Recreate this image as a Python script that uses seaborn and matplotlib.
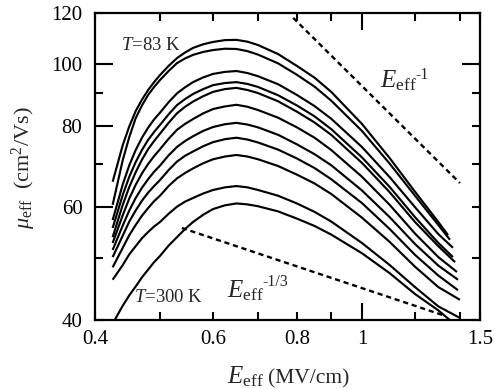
import matplotlib
matplotlib.use("Agg")
import matplotlib.pyplot as plt
from matplotlib.ticker import FixedLocator, FixedFormatter, NullLocator
import pandas as pd
import seaborn as sns

# Effective field grid (MV/cm) shared by the interior of every curve
E_grid = [0.44, 0.45, 0.46, 0.47, 0.48, 0.49, 0.50, 0.515, 0.53, 0.545, 0.56,
          0.58, 0.60, 0.625, 0.65, 0.675, 0.70, 0.75, 0.80, 0.85, 0.90,
          1.00, 1.10, 1.20, 1.30]

# First and last measured point of each curve (T = 83 K ... 300 K)
E_start = [0.425, 0.425, 0.425, 0.425, 0.425, 0.425, 0.425, 0.425, 0.425, 0.425, 0.428]
mu_start = [65.6, 60.4, 57.2, 55.6, 53.8, 52.7, 51.4, 50.1, 48.3, 46.2, 40.0]
E_end = [1.344, 1.353, 1.367, 1.367, 1.377, 1.386, 1.391, 1.391, 1.40, 1.40, 1.40]
mu_end = [54.2, 53.3, 51.8, 50.1, 49.2, 47.5, 46.2, 44.5, 43.0, 40.3, 38.8]

# Effective mobility (cm^2/Vs) on E_grid, from 83 K (top) to 300 K (bottom)
mu_c1 = [74.8, 80.0, 84.5, 88.0, 91.1, 93.7, 96.1, 99.3, 102.1, 104.2, 105.9, 107.3, 108.2,
         108.9, 109.0, 108.3, 107.0, 103.6, 99.3, 95.2, 90.5, 80.7, 71.4, 63.3, 56.8]
mu_c2 = [70.9, 77.0, 82.4, 86.2, 89.5, 92.1, 94.4, 97.5, 100.3, 102.0, 103.3, 104.4, 105.1,
         105.6, 105.5, 104.7, 103.4, 100.2, 96.2, 92.2, 87.7, 78.7, 70.0, 62.4, 56.2]
mu_c3 = [65.0, 69.6, 73.5, 76.8, 79.6, 82.0, 84.0, 87.2, 90.0, 92.0, 93.7, 95.3, 96.5,
         97.2, 97.5, 96.8, 95.7, 93.0, 89.5, 86.0, 82.2, 74.3, 66.7, 59.9, 54.4]
mu_c4 = [62.6, 66.8, 70.4, 73.5, 76.2, 78.4, 80.4, 83.5, 86.3, 88.2, 89.8, 91.4, 92.7,
         93.4, 93.7, 93.1, 92.1, 89.4, 86.2, 82.9, 79.2, 71.6, 64.4, 57.8, 52.7]
mu_c5 = [60.4, 64.4, 67.9, 71.0, 73.7, 75.9, 77.9, 81.0, 83.8, 85.8, 87.4, 89.1, 90.5,
         91.4, 91.8, 91.1, 90.1, 87.5, 84.3, 81.1, 77.6, 70.2, 63.2, 56.8, 52.1]
mu_c6 = [58.2, 61.8, 64.9, 67.6, 69.9, 71.9, 73.7, 76.5, 79.0, 80.7, 82.1, 83.8, 85.1,
         85.9, 86.4, 85.8, 84.8, 82.5, 79.7, 76.8, 73.5, 66.8, 60.4, 54.5, 50.1]
mu_c7 = [56.1, 59.2, 61.9, 64.2, 66.2, 68.0, 69.5, 72.1, 74.3, 75.9, 77.2, 78.7, 79.8,
         80.6, 81.0, 80.5, 79.7, 77.6, 75.0, 72.4, 69.6, 63.6, 57.8, 52.5, 48.6]
mu_c8 = [54.1, 56.9, 59.2, 61.3, 63.1, 64.6, 66.0, 68.4, 70.5, 72.0, 73.1, 74.5, 75.6,
         76.4, 76.8, 76.3, 75.5, 73.6, 71.3, 68.9, 66.2, 60.8, 55.4, 50.5, 46.9]
mu_c9 = [51.8, 54.2, 56.2, 58.1, 59.7, 61.2, 62.4, 64.6, 66.4, 67.7, 68.8, 70.1, 71.1,
         71.8, 72.2, 71.8, 71.1, 69.4, 67.3, 65.2, 62.8, 57.7, 52.9, 48.4, 45.0]
mu_c10 = [48.7, 50.6, 52.1, 53.6, 54.8, 55.9, 56.8, 58.5, 60.0, 61.1, 61.9, 62.9, 63.7,
          64.3, 64.6, 64.3, 63.7, 62.4, 60.7, 58.9, 56.9, 52.7, 48.7, 45.0, 42.0]
mu_c11 = [42.1, 43.7, 45.1, 46.6, 47.9, 49.2, 50.3, 52.2, 53.8, 55.4, 56.8, 58.3, 59.5,
          60.3, 60.7, 60.5, 60.1, 59.0, 57.5, 56.0, 54.3, 50.8, 47.3, 43.9, 41.4]

# Power-law guide lines (end points)
guide_inv_E = [0.79, 1.40]
guide_inv_mu = [117.9, 65.3]
guide_third_E = [0.539, 1.321]
guide_third_mu = [55.6, 40.7]

x_ticks = [0.4, 0.5, 0.6, 0.7, 0.8, 0.9, 1.0, 1.2, 1.4, 1.5]
x_labels = ["0.4", "", "0.6", "", "0.8", "", "1", "", "", "1.5"]
y_ticks = [40, 50, 60, 70, 80, 90, 100, 120]
y_labels = ["40", "", "60", "", "80", "", "100", "120"]

curves = [mu_c1, mu_c2, mu_c3, mu_c4, mu_c5, mu_c6, mu_c7, mu_c8, mu_c9, mu_c10, mu_c11]
rows = []
for i, mids in enumerate(curves):
    xs = [E_start[i]] + E_grid + [E_end[i]]
    ys = [mu_start[i]] + mids + [mu_end[i]]
    rows += [(i, x, y) for x, y in zip(xs, ys)]
df = pd.DataFrame(rows, columns=["curve", "E", "mu"])

sns.set_style("ticks")
plt.rcParams["font.family"] = ["Liberation Serif", "DejaVu Serif"]
plt.rcParams["mathtext.fontset"] = "custom"
plt.rcParams["mathtext.rm"] = "Liberation Serif"
plt.rcParams["mathtext.it"] = "Liberation Serif:italic"
plt.rcParams["mathtext.bf"] = "Liberation Serif:bold"

W, H = 496, 389
fig = plt.figure(figsize=(W / 100, H / 100), dpi=100)
ax = fig.add_axes([95 / W, 1 - 320 / H, 385 / W, 307 / H])

sns.lineplot(data=df, x="E", y="mu", units="curve", estimator=None,
             color="black", lw=1.55, ax=ax, legend=False,
             solid_joinstyle="round", solid_capstyle="butt")
ax.plot(guide_inv_E, guide_inv_mu, color="black", lw=1.7, dashes=(2.2, 1.6))
ax.plot(guide_third_E, guide_third_mu, color="black", lw=1.7, dashes=(2.2, 1.6))

ax.set_xscale("log")
ax.set_yscale("log")
ax.set_xlim(0.4, 1.5)
ax.set_ylim(40, 120)
ax.xaxis.set_major_locator(FixedLocator(x_ticks))
ax.xaxis.set_major_formatter(FixedFormatter(x_labels))
ax.xaxis.set_minor_locator(NullLocator())
ax.yaxis.set_major_locator(FixedLocator(y_ticks))
ax.yaxis.set_major_formatter(FixedFormatter(y_labels))
ax.yaxis.set_minor_locator(NullLocator())
ax.set_xlabel("")
ax.set_ylabel("")

for s in ax.spines.values():
    s.set_linewidth(1.6)
    s.set_color("black")
ax.tick_params(which="both", direction="in", top=True, right=True,
               width=1.5, length=6, labelsize=15, colors="black")
ax.tick_params(axis="x", pad=7)
ax.tick_params(axis="y", pad=9)

fig.canvas.draw()
for t, v in zip(ax.xaxis.get_major_ticks(), x_ticks):
    if v == 1.0:
        t.tick1line.set_markersize(12)
        t.tick2line.set_markersize(12)
for t, v in zip(ax.yaxis.get_major_ticks(), y_ticks):
    if v in (60, 80, 100):
        t.tick1line.set_markersize(13)
    if v == 100:
        t.tick2line.set_markersize(13)

# curve annotations
ax.text(0.438, 107, r"$T$=83 K", fontsize=13.5, ha="left", va="center")
ax.text(0.458, 43.3, r"$T$=300 K", fontsize=13.5, ha="left", va="center")
ax.text(1.064, 92.1, r"$E_{\rm eff}$", fontsize=18, ha="left", va="baseline")
ax.annotate("-1", xy=(1.064, 92.1), xytext=(25.5, 5.5), textcoords="offset points",
            fontsize=11.5, ha="left", va="baseline")
ax.text(0.629, 43.4, r"$E_{\rm eff}$", fontsize=18, ha="left", va="baseline")
ax.annotate("-1/3", xy=(0.629, 43.4), xytext=(25.5, 8.0), textcoords="offset points",
            fontsize=11.5, ha="left", va="baseline")

# axis titles
fig.text(227 / W, 1 - 383 / H, r"$E_{\rm eff}$", fontsize=18, ha="left", va="baseline")
fig.text(268 / W, 1 - 383 / H, "(MV/cm)", fontsize=15.5, ha="left", va="baseline")
fig.text(24 / W, 1 - 168 / H, r"$\mu_{\rm eff}$  (cm$^2$/Vs)", fontsize=16,
         rotation=90, ha="center", va="center")

fig.savefig("out.png", dpi=100)
